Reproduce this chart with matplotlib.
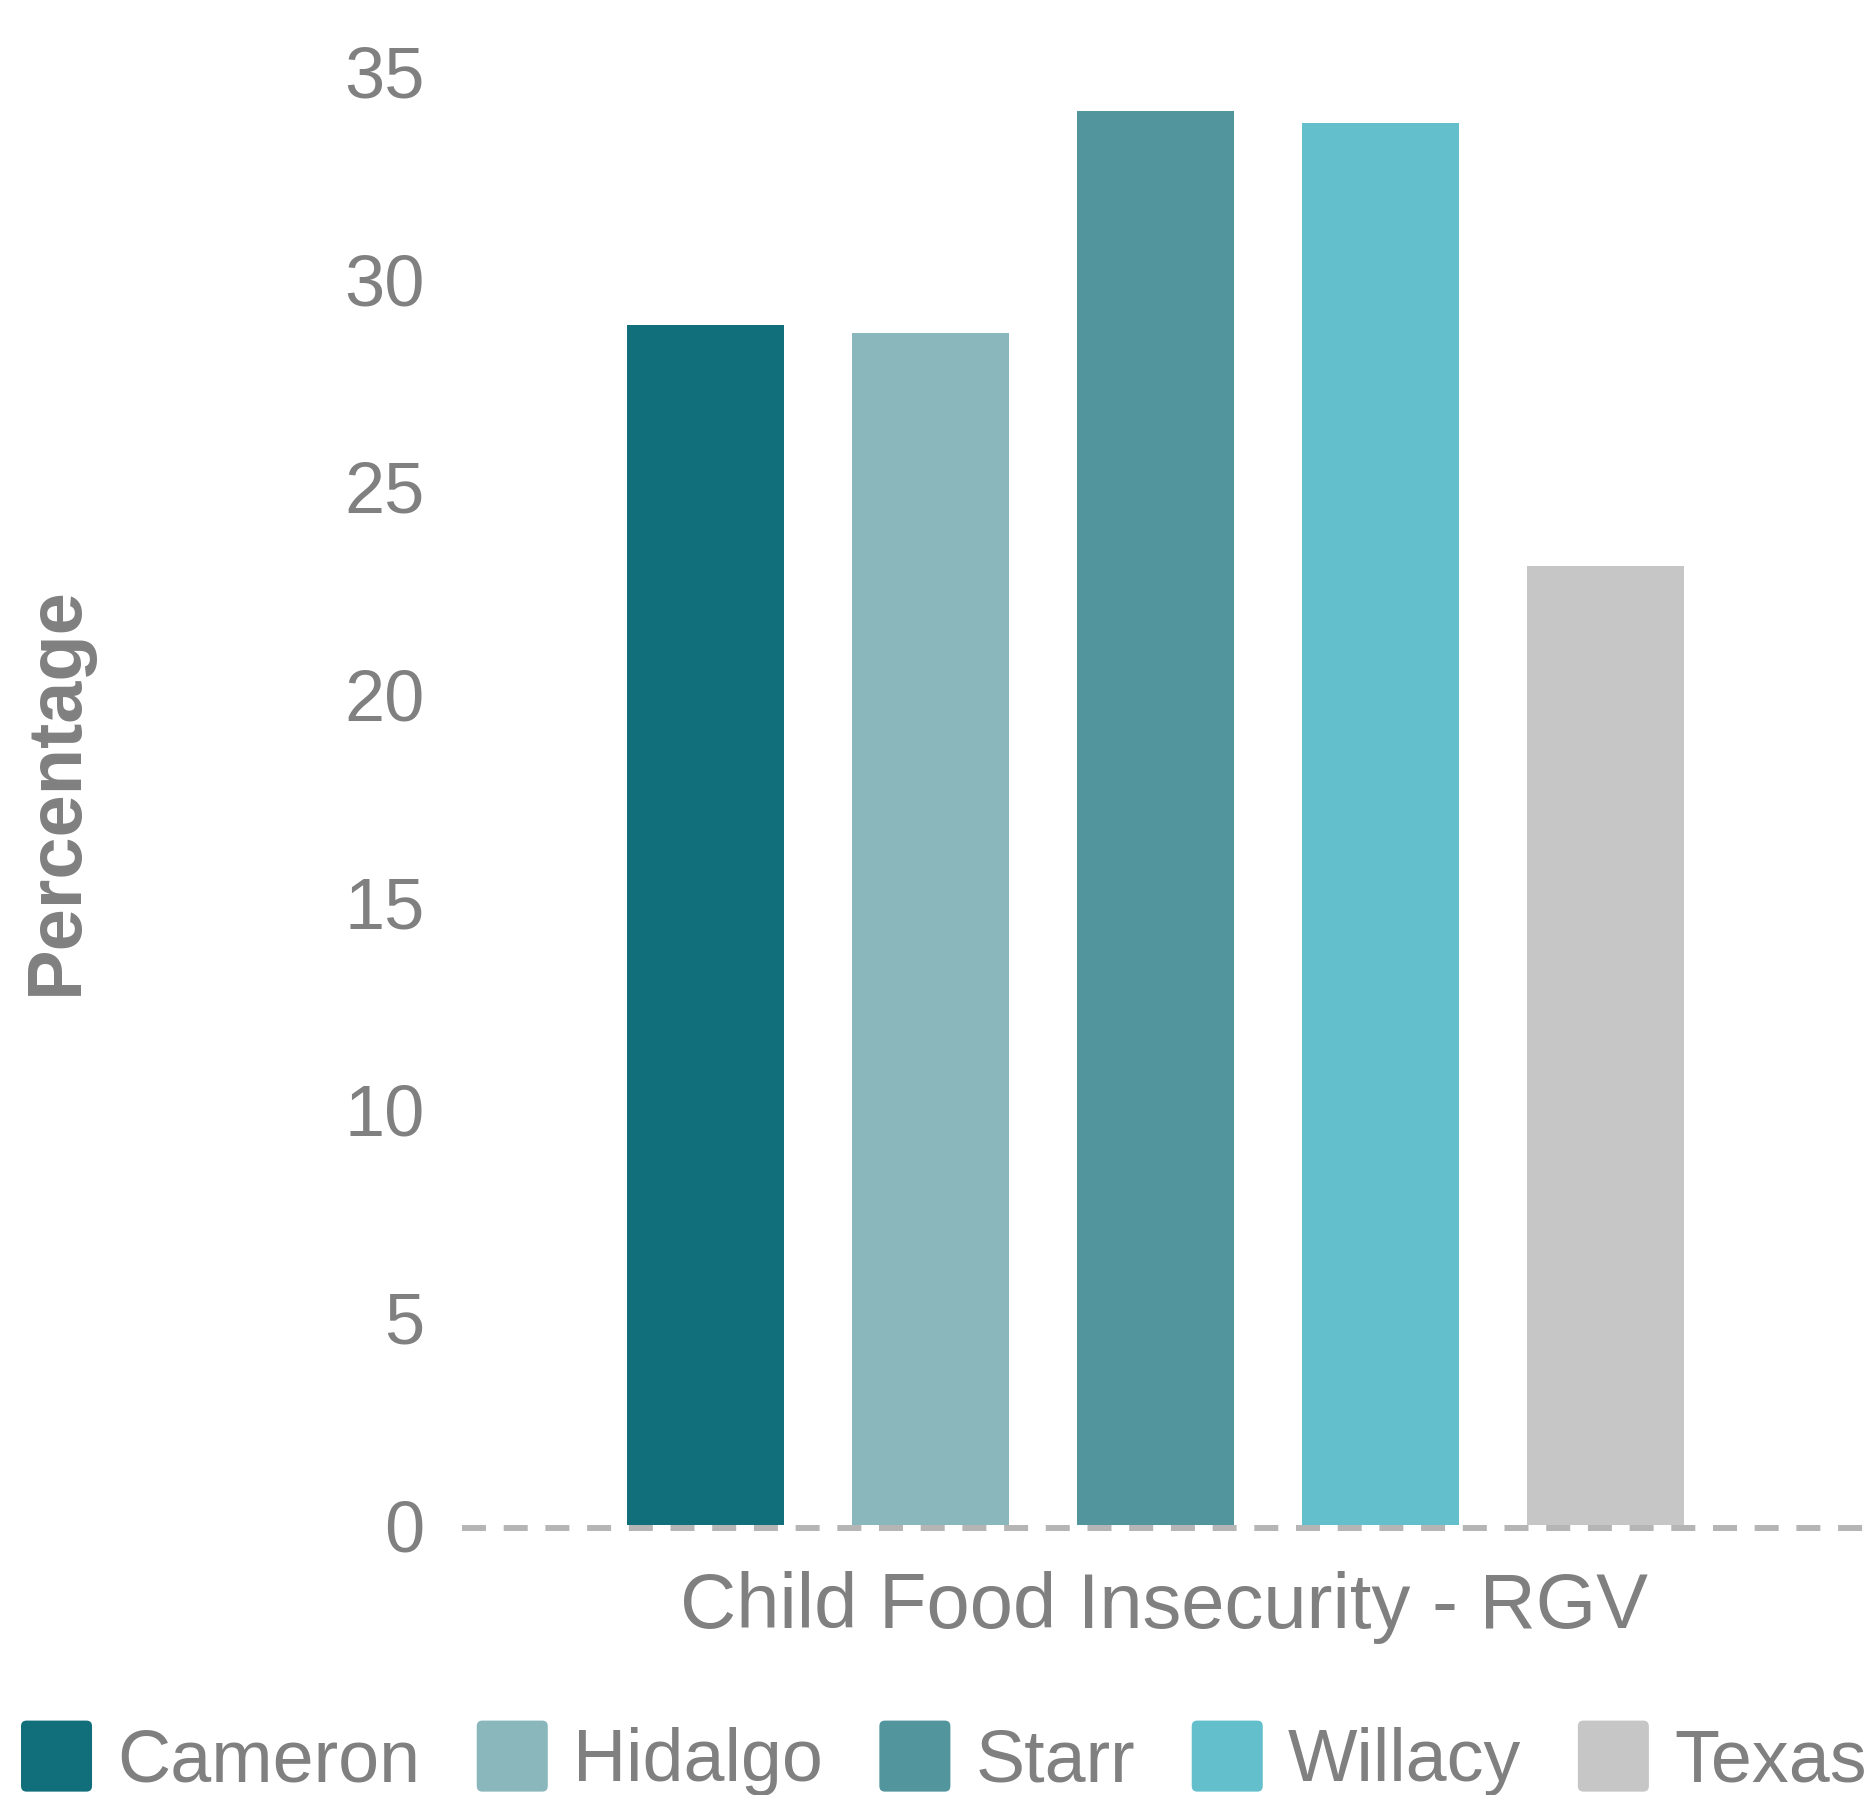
import matplotlib
matplotlib.use("Agg")
import matplotlib.pyplot as plt
from matplotlib.patches import FancyBboxPatch, Patch
from matplotlib.legend_handler import HandlerPatch
from matplotlib.transforms import ScaledTranslation

counties = ["Cameron", "Hidalgo", "Starr", "Willacy", "Texas"]
values = [28.9, 28.7, 34.05, 33.75, 23.1]
colors = ["#116f7b", "#8ab7bc", "#52959d", "#63bfcc", "#c6c6c6"]
category = "Child Food Insecurity - RGV"
yticks = [0, 5, 10, 15, 20, 25, 30, 35]

plt.rcParams['font.family'] = ['Liberation Sans', 'DejaVu Sans']
gray = "#808080"

fig = plt.figure(figsize=(18.67, 17.95), dpi=100)
ax = fig.add_axes([0.2475, 0.1504, 0.7525, 0.8098])

for i, (c, v, col) in enumerate(zip(counties, values, colors)):
    ax.bar(i, v, width=0.698, color=col, label=c, zorder=2)

line_tr = ax.get_yaxis_transform() + ScaledTranslation(0, -3 / 100, fig.dpi_scale_trans)
ax.plot([0, 1], [0, 0], transform=line_tr, color="#b5b5b5", lw=4.32,
        linestyle=(0, (4, 2.95)), solid_capstyle='butt', dash_capstyle='butt',
        clip_on=False, zorder=3)
ax.set_xlim(-1.08, 5.164)
ax.set_ylim(0, 35)
ax.set_yticks(yticks)
ax.set_yticklabels([str(t) for t in yticks])
ax.tick_params(axis='y', length=0, pad=27, labelsize=52, labelcolor=gray)
ax.set_xticks([])
for s in ax.spines.values():
    s.set_visible(False)

fig.text(1164 / 1867, 1 - 1608 / 1795, category, ha='center', va='center',
         fontsize=56, color=gray)
fig.text(57 / 1867, 1 - 791 / 1795, "Percentage", ha='center', va='center',
         rotation=90, fontsize=54.5, fontweight='bold', color=gray)


class RoundHandler(HandlerPatch):
    def create_artists(self, legend, orig_handle, xdescent, ydescent,
                       width, height, fontsize, trans):
        size = width
        y0 = -ydescent + (height - size) / 2
        p = FancyBboxPatch((-xdescent, y0), size, size,
                           boxstyle="round,pad=0,rounding_size=4",
                           facecolor=orig_handle.get_facecolor(),
                           edgecolor='none', transform=trans)
        return [p]


handles = [Patch(facecolor=col) for col in colors]
leg = fig.legend(handles, counties, loc='upper left',
                 bbox_to_anchor=(21 / 1867, 1 - 1724 / 1795), ncol=5,
                 frameon=False, fontsize=53, labelcolor=gray,
                 handlelength=0.965, handleheight=0.965, handletextpad=0.34,
                 columnspacing=0.77, borderpad=0, borderaxespad=0,
                 handler_map={Patch: RoundHandler()})

fig.savefig("out.png", dpi=100)
